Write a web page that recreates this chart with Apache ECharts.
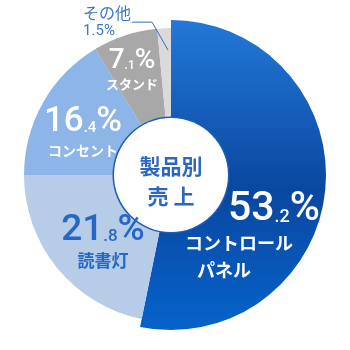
<!DOCTYPE html>
<html><head><meta charset="utf-8">
<script src="https://cdn.jsdelivr.net/npm/echarts@6/dist/echarts.min.js"></script>
<style>html,body{margin:0;padding:0;background:#fff}#c{width:350px;height:350px}</style>
</head><body><div id="c"></div>
<script>
// ---- data ----
const categories = ['コントロール\nパネル', '読書灯', 'コンセント', 'スタンド', 'その他'];
const values = [53.2, 21.8, 16.4, 7.1, 1.5];
const centerTitle = ['製品別', '売 上'];

// ---- styles ----
const CENTER = [171, 175];
const R_MAIN = 155, R_REST = 147, R_HOLE = 57;
const JP = '"Noto Sans CJK JP", "Noto Sans", sans-serif';
const NUM = 'Roboto, "Noto Sans", sans-serif';
const CLEAR = 'rgba(0,0,0,0)';

const mainGrad = new echarts.graphic.LinearGradient(0, 0, 0, 1, [
  { offset: 0, color: '#2278d8' },
  { offset: 0.55, color: '#0a47a0' },
  { offset: 1, color: '#0663cc' }
]);
const sliceColors = [mainGrad, '#b6cce7', '#8db5e7', '#a8a8a8', '#dadada'];

const labelStyles = [
  { color: '#fff', big: 41, small: 18, name: 18, bigLH: 40, nameLH: 27, lead: 43, lead3: 12 },
  { color: '#2468c4', big: 37, small: 17, name: 17, bigLH: 36, nameLH: 24 },
  { color: '#fff', big: 35, small: 15, name: 14, bigLH: 32, nameLH: 22 },
  { color: '#fff', big: 28, small: 12, name: 13, bigLH: 26, nameLH: 18 },
  { color: '#3a78cc', name: 16, nameLH: 18 }
];
const labelPlace = [
  { x: 185, y: 190, align: 'left', verticalAlign: 'top' },
  { x: 103, y: 243, align: 'center', verticalAlign: 'middle' },
  { x: 83, y: 135, align: 'center', verticalAlign: 'middle' },
  { x: 132, y: 71, align: 'center', verticalAlign: 'middle' },
  null
];

function richFor(i) {
  const s = labelStyles[i];
  const r = {};
  if (i === 4) {
    r['n4'] = { color: s.color, fontSize: s.name, fontFamily: JP, lineHeight: s.nameLH, align: 'left' };
    r['m4'] = { color: s.color, fontSize: s.name - 1, fontFamily: NUM, lineHeight: s.nameLH, align: 'left' };
    return r;
  }
  r['b' + i] = { color: s.color, fontSize: s.big, fontFamily: NUM, fontWeight: 500, lineHeight: s.bigLH, verticalAlign: 'bottom', padding: [0, 0, 0, s.lead || 0] };
  r['s' + i] = { color: s.color, fontSize: s.small, fontFamily: NUM, fontWeight: 500, lineHeight: s.small, verticalAlign: 'bottom', padding: [0, 0, Math.round(s.big * 0.1), 0] };
  r['p' + i] = { color: s.color, fontSize: s.big, fontFamily: NUM, fontWeight: 500, lineHeight: s.bigLH, verticalAlign: 'bottom' };
  r['n' + i] = { color: s.color, fontSize: s.name, fontFamily: JP, fontWeight: 'bold', lineHeight: s.nameLH };
  r['q' + i] = { color: s.color, fontSize: s.name, fontFamily: JP, fontWeight: 'bold', lineHeight: s.nameLH, padding: [0, 0, 0, s.lead3 || 0] };
  return r;
}
function labelText(i) {
  const v = values[i];
  const names = categories[i].split('\n');
  if (i === 4) return '{n4|' + names[0] + '}\n{m4|' + v.toFixed(1) + '%}';
  const [ip, dp] = v.toFixed(1).split('.');
  let t = '{b' + i + '|' + ip + '}{s' + i + '|.' + dp + '}{p' + i + '|%}';
  names.forEach((n, k) => { t += '\n{' + (k === 0 ? 'n' : 'q') + i + '|' + n + '}'; });
  return t;
}

// which: 'main' -> slice 0 filled; 'rest' -> slices 1..4 filled; 'note' -> nothing filled, only outside label of slice 4
function buildData(which) {
  return values.map((v, i) => {
    const fill = which === 'main' ? i === 0 : which === 'rest' ? i !== 0 : false;
    const showLabel = which === 'main' ? i === 0 : which === 'rest' ? (i > 0 && i < 4) : i === 4;
    return {
      name: categories[i],
      value: v,
      itemStyle: { color: fill ? sliceColors[i] : CLEAR },
      label: showLabel ? {
        show: true,
        position: i === 4 ? 'outside' : 'inside',
        fontSize: labelStyles[i].name,
        fontFamily: JP,
        color: labelStyles[i].color,
        formatter: labelText(i),
        rich: richFor(i)
      } : { show: false },
      labelLine: { show: showLabel && i === 4 }
    };
  });
}

// label line / label placement for the small outside label, derived from the natural line start
function outsideLayout(p) {
  const pts = p.labelLinePoints;
  if (!pts) return {};
  const p0 = pts[0];
  const start = [p0[0] + 4, p0[1] + 22];
  const bend = [p0[0] - 12, p0[1] - 6];
  const end = [p0[0] - 32, p0[1] - 6];
  return { labelLinePoints: [start, bend, end], x: end[0] - 1, y: end[1], align: 'right', verticalAlign: 'middle' };
}

const chart = echarts.init(document.getElementById('c'), null, { renderer: 'canvas' });
chart.setOption({
  animation: false,
  series: [
    {
      type: 'pie', center: CENTER, radius: [0, R_MAIN], startAngle: 90, clockwise: true,
      silent: true, data: buildData('main'),
      labelLayout: p => labelPlace[p.dataIndex] || {}
    },
    {
      type: 'pie', center: CENTER, radius: [0, R_REST], startAngle: 90, clockwise: true,
      silent: true, data: buildData('rest'),
      labelLayout: p => labelPlace[p.dataIndex] || {}
    },
    {
      type: 'pie', center: CENTER, radius: [0, R_REST], startAngle: 90, clockwise: true,
      silent: true, z: 3, data: buildData('note'),
      labelLine: { length: 6, length2: 28, lineStyle: { color: '#2f6cc4', width: 1 } },
      label: { distanceToLabelLine: 2 },
      labelLayout: p => outsideLayout(p)
    },
    {
      type: 'pie', center: CENTER, radius: [0, R_HOLE + 1.5], silent: true,
      label: { show: false }, labelLine: { show: false },
      data: [{ value: 1, itemStyle: { color: '#1f5cb5' } }]
    },
    {
      type: 'pie', center: CENTER, radius: [0, R_HOLE], silent: true,
      labelLine: { show: false },
      data: [{
        value: 1, itemStyle: { color: '#ffffff' },
        label: {
          show: true, position: 'center', padding: [12, 0, 0, 0],
          formatter: centerTitle.map(t => '{t|' + t + '}').join('\n'),
          rich: { t: { color: '#2a68c0', fontSize: 21, fontWeight: 'bold', fontFamily: JP, lineHeight: 30 } }
        }
      }]
    }
  ]
});
</script>
</body></html>
